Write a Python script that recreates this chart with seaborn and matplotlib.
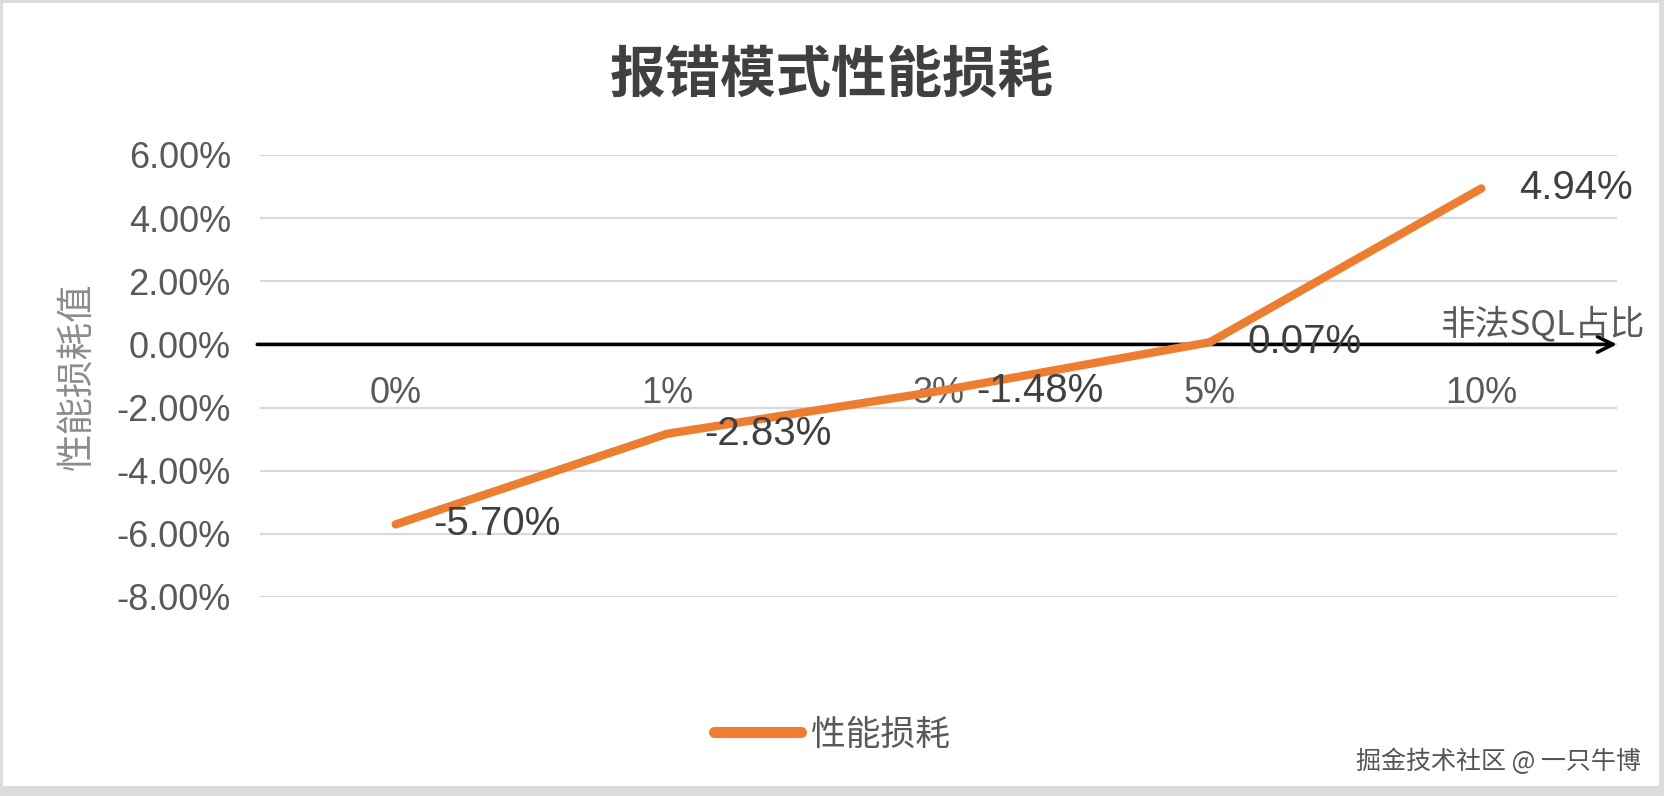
import pandas as pd
import seaborn as sns
import matplotlib.pyplot as plt
from matplotlib.patches import Rectangle

# data
ratios = ['0%', '1%', '3%', '5%', '10%']
loss = [-5.70, -2.83, -1.48, 0.07, 4.94]
y_ticks = [-8, -6, -4, -2, 0, 2, 4, 6]
series_name = '性能损耗'
title_text = '报错模式性能损耗'
x_title = '非法SQL占比'
y_title = '性能损耗值'
mark_text = '掘金技术社区 @ 一只牛博'

df = pd.DataFrame({'ratio': ratios, 'loss': loss, 'series': series_name})

sns.set_style('white')
plt.rcParams['font.family'] = ['Liberation Sans', 'Noto Sans CJK SC', 'DejaVu Sans']
cjk = ['Noto Sans CJK SC', 'DejaVu Sans']

fig = plt.figure(figsize=(16.64, 7.96), dpi=100)
fig.patch.set_facecolor('#dcdcdc')
fig.add_artist(Rectangle((3 / 1664, 10 / 796), 1656 / 1664, 783 / 796,
                         transform=fig.transFigure, facecolor='white',
                         edgecolor='none', zorder=0))

ax = fig.add_axes([260 / 1664, 0.25, 1357 / 1664, 0.5553])
ax.set_facecolor('none')

sns.lineplot(data=df, x='ratio', y='loss', hue='series', palette=['#ED7D31'],
             sort=False, linewidth=6, ax=ax, legend=False, zorder=4,
             solid_capstyle='round')

ax.set_xlim(-0.5, len(ratios) - 0.5)
ax.set_ylim(-8, 6)
ax.set_yticks(y_ticks)
ax.set_yticklabels([f'{v:.2f}%' for v in y_ticks])
ax.yaxis.grid(True, color='#d9d9d9', linewidth=1.6)
ax.xaxis.grid(False)
for s in ax.spines.values():
    s.set_visible(False)
ax.spines['bottom'].set_position(('data', 0))

ax.tick_params(axis='y', length=0, pad=21, labelsize=26, labelcolor='#595959')
ax.tick_params(axis='x', length=0, pad=23, labelsize=26, labelcolor='#595959')
ax.set_xlabel('')
ax.set_ylabel('')

# horizontal axis with arrow
ax.annotate('', xy=(1.0, 0), xycoords=('axes fraction', 'data'),
            xytext=(-0.002, 0), textcoords=('axes fraction', 'data'),
            arrowprops=dict(arrowstyle='->', lw=2.6, color='black',
                            mutation_scale=28, shrinkA=0, shrinkB=0),
            zorder=3)
ax.text(1.02, 0.08, x_title, transform=ax.get_yaxis_transform(),
        ha='right', va='bottom', fontsize=25, color='#595959', family=cjk)

# data labels
for i, v in enumerate(loss):
    ax.annotate(f'{v:.2f}%', xy=(i, v), xytext=(27, 0),
                textcoords='offset points', ha='left', va='center',
                fontsize=29, color='#404040', zorder=5)

fig.text(832 / 1664, 1 - 76 / 796, title_text, ha='center', va='center',
         fontsize=40, fontweight='bold', color='#404040', family=cjk)
fig.text(77 / 1664, 1 - 376 / 796, y_title, ha='center', va='center',
         rotation=90, fontsize=27, color='#8c8c8c', family=cjk)

handle = plt.Line2D([], [], color='#ED7D31', linewidth=8, solid_capstyle='round')
leg = fig.legend([handle], [series_name], loc='center',
                 bbox_to_anchor=(0.5, 1 - 735 / 796), frameon=False,
                 handlelength=2.5, handletextpad=0.3,
                 prop={'family': cjk, 'size': 25})
for t in leg.get_texts():
    t.set_color('#595959')

fig.text(1641 / 1664, 1 - 762 / 796, mark_text, ha='right', va='center',
         fontsize=18, color='#555555', family=cjk)

plt.savefig('out.png', dpi=100, facecolor=fig.get_facecolor())
